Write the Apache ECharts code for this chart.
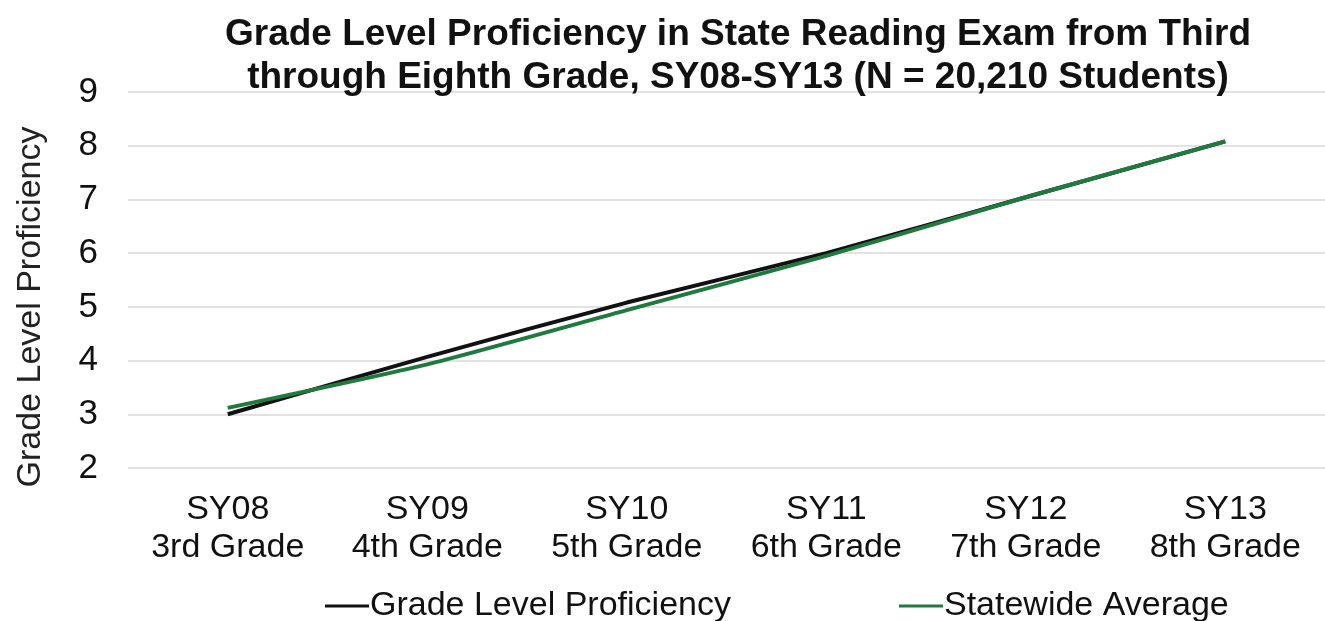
<!DOCTYPE html>
<html lang="en">
<head>
    <meta charset="UTF-8">
    <title>Grade Level Proficiency</title>
    <style>
        html, body { margin: 0; padding: 0; background: #fff; }
    </style>
</head>
<body>
    <div id="main" style="width: 1325px;height:621px;"></div>
    <script src="https://cdn.jsdelivr.net/npm/echarts@6/dist/echarts.min.js"></script>
<script type="text/javascript">
    // categories (school year + grade)
    var categories = ['SY08\n3rd Grade', 'SY09\n4th Grade', 'SY10\n5th Grade', 'SY11\n6th Grade', 'SY12\n7th Grade', 'SY13\n8th Grade'];
    var gradeLevel = [3.0, 4.07, 5.08, 6.0, 7.04, 8.08];
    var statewide = [3.12, 3.93, 4.94, 5.95, 7.04, 8.08];
    var yTicks = [2, 3, 4, 5, 6, 7, 8, 9];

    var font = 'Liberation Sans, Arial, sans-serif';
    var myChart = echarts.init(document.getElementById('main'));

    myChart.setOption({
        animation: false,
        title: {
            text: 'Grade Level Proficiency in State Reading Exam from Third\nthrough Eighth Grade, SY08-SY13 (N = 20,210 Students)',
            left: 733,
            textAlign: 'center',
            top: 8,
            textStyle: {fontFamily: font, fontSize: 37, fontWeight: 'bold', color: '#111', lineHeight: 43}
        },
        legend: {
            top: 584,
            left: 320,
            itemGap: 168,
            itemWidth: 44,
            itemHeight: 3,
            icon: 'rect',
            textStyle: {fontFamily: font, fontSize: 34, color: '#111', padding: [0, 0, 0, -4]},
            data: ['Grade Level Proficiency', 'Statewide Average']
        },
        grid: {left: 128, right: 0, top: 92, bottom: 153},
        xAxis: {
            type: 'category',
            data: categories,
            boundaryGap: true,
            axisLine: {show: false},
            axisTick: {show: false},
            axisLabel: {fontFamily: font, fontSize: 34, color: '#111', lineHeight: 38, margin: 23}
        },
        yAxis: {
            type: 'value',
            min: yTicks[0],
            max: yTicks[yTicks.length - 1],
            interval: 1,
            name: 'Grade Level Proficiency',
            nameLocation: 'middle',
            nameGap: 80,
            nameTextStyle: {fontFamily: font, fontSize: 34, color: '#222', padding: [0, 54, 0, 0]},
            axisLine: {show: false},
            axisTick: {show: false},
            axisLabel: {fontFamily: font, fontSize: 35, color: '#111', margin: 30},
            splitLine: {lineStyle: {color: '#d9d9d9', width: 1.5}}
        },
        series: [
            {
                name: 'Grade Level Proficiency', type: 'line', data: gradeLevel,
                symbol: 'none', smooth: 0.2,
                itemStyle: {color: '#111'},
                lineStyle: {color: '#111', width: 4}
            },
            {
                name: 'Statewide Average', type: 'line', data: statewide,
                symbol: 'none', smooth: 0.2,
                itemStyle: {color: '#1f7a3e'},
                lineStyle: {color: '#1f7a3e', width: 4}
            }
        ]
    });
</script>
</body>
</html>
